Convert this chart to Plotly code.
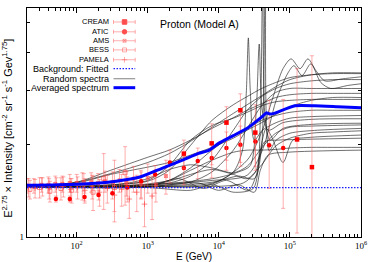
import plotly.graph_objects as go

# ---------------- measurements ----------------
cream_E = [3220, 7930, 12800, 20100, 32600, 126000, 204000]
cream_v = [1.87, 2.02, 2.36, 2.59, 2.19, 2.08, 1.69]
cream_up = [0.20, 0.32, 0.30, 0.34, 0.51, 1.46, 2.21]
cream_dn = [0.20, 0.30, 0.58, 0.84, 0.54, 1.05, 1.00]

atic_E = [51, 80, 129, 203, 318, 515, 808, 1270, 2050, 3220, 5050, 7930, 12800, 20100, 32600, 51100, 80400]
atic_v = [1.33, 1.33, 1.35, 1.37, 1.39, 1.45, 1.52, 1.60, 1.75, 1.68, 1.77, 1.81, 1.95, 2.00, 2.05, 1.99, 1.95]
atic_up = [0.03, 0.03, 0.04, 0.05, 0.06, 0.12, 0.11, 0.11, 0.17, 0.15, 0.18, 0.20, 0.25, 0.30, 0.35, 0.80, 0.86]
atic_dn = [0.03, 0.03, 0.04, 0.05, 0.06, 0.15, 0.18, 0.21, 0.25, 0.20, 0.22, 0.25, 0.30, 0.30, 0.35, 0.55, 0.71]

ams_E = [20, 25, 32, 40, 50, 63, 80, 100, 126, 160, 200, 250, 320, 400, 500, 630, 800, 1000, 1300, 1800]
ams_v = [1.47, 1.47, 1.48, 1.48, 1.49, 1.49, 1.50, 1.50, 1.51, 1.51, 1.50, 1.52, 1.51, 1.53, 1.50, 1.55, 1.49, 1.56, 1.48, 1.58]
ams_err = [0.08, 0.08, 0.08, 0.09, 0.09, 0.09, 0.10, 0.10, 0.10, 0.11, 0.11, 0.12, 0.12, 0.13, 0.14, 0.15, 0.16, 0.17, 0.18, 0.20]

bess_E = [22, 30, 42, 60, 85, 120, 170, 240, 340, 480]
bess_v = [1.43, 1.45, 1.41, 1.44, 1.42, 1.47, 1.40, 1.55, 1.45, 1.62]
bess_err = [0.10, 0.11, 0.11, 0.12, 0.13, 0.15, 0.18, 0.32, 0.33, 0.35]

pamela_E = [21, 26, 33, 41, 52, 65, 82, 103, 130, 165, 210, 270, 340, 430, 550, 700, 900, 1150]
pamela_v = [1.45, 1.44, 1.46, 1.44, 1.45, 1.46, 1.43, 1.45, 1.42, 1.46, 1.40, 1.44, 1.37, 1.43, 1.33, 1.40, 1.28, 1.36]
pamela_err = [0.10, 0.10, 0.10, 0.11, 0.11, 0.11, 0.12, 0.12, 0.13, 0.13, 0.14, 0.15, 0.16, 0.17, 0.18, 0.19, 0.20, 0.22]

# ---------------- model curves ----------------
bg_E = [20, 1000000]
bg_v = [1.448, 1.448]

avg_E = [20, 58, 209, 361, 757, 1585, 3020, 5200, 7200, 9930, 16000, 26000, 35000, 42200, 46400,
         52000, 60000, 68300, 118000, 224000, 468000, 1000000]
avg_v = [1.475, 1.48, 1.50, 1.52, 1.566, 1.675, 1.778, 1.874, 1.916, 2.02, 2.14, 2.276, 2.40, 2.49, 2.54,
         2.52, 2.53, 2.56, 2.68, 2.68, 2.66, 2.64]

E_grid = [20, 100, 300, 1000, 2000, 4000, 8000, 16000, 25000, 40000, 63000, 100000, 200000, 400000, 1000000]

rs1_v = [1.46, 1.51, 1.61, 1.75, 1.87, 2.05, 2.28, 2.53, 2.70, 2.89, 3.09, 3.26, 3.38, 3.43, 3.43]
rs2_v = [1.46, 1.46, 1.48, 1.52, 1.65, 1.99, 2.40, 2.70, 2.87, 3.05, 3.19, 3.31, 3.38, 3.41, 3.41]
rs4_v = [1.46, 1.46, 1.46, 1.48, 1.50, 1.58, 1.78, 2.23, 2.59, 2.87, 3.05, 3.16, 3.23, 3.26, 3.26]
rs6_v = [1.46, 1.51, 1.65, 1.82, 1.92, 2.07, 2.26, 2.45, 2.59, 2.72, 2.85, 2.91, 2.94, 2.94, 2.94]
rs7_v = [1.46, 1.50, 1.60, 1.69, 1.75, 1.85, 1.96, 2.10, 2.23, 2.36, 2.51, 2.66, 2.79, 2.85, 2.85]
rs8_v = [1.46, 1.46, 1.48, 1.53, 1.71, 2.07, 2.31, 2.44, 2.55, 2.68, 2.76, 2.79, 2.81, 2.81, 2.81]
rs15_v = [1.46, 1.46, 1.46, 1.49, 1.53, 1.65, 1.78, 1.89, 1.92, 1.92, 1.93, 1.95, 1.96, 1.96, 1.96]
rs17_v = [1.46, 1.46, 1.46, 1.48, 1.53, 1.68, 1.92, 2.15, 2.26, 2.40, 2.49, 2.55, 2.59, 2.59, 2.59]
rs18_v = [1.46, 1.46, 1.46, 1.46, 1.48, 1.51, 1.63, 1.92, 2.26, 2.68, 2.96, 3.05, 3.05, 3.05, 3.05]
rs19_v = [1.46, 1.46, 1.47, 1.55, 1.66, 1.72, 1.68, 1.62, 1.70, 1.95, 2.18, 2.28, 2.30, 2.31, 2.32]
rs20_v = [1.46, 1.46, 1.46, 1.47, 1.52, 1.60, 1.66, 1.60, 1.55, 1.72, 1.98, 2.10, 2.18, 2.20, 2.22]

rs3_E = [20, 1000, 8200, 25000, 41000, 56000, 80000, 104000, 139000, 179000, 232000, 310000, 550000, 1000000]
rs3_v = [1.46, 1.46, 1.49, 1.78, 2.23, 2.79, 3.54, 3.81, 3.54, 3.81, 3.49, 3.23, 3.28, 3.33]
rs5_E = [20, 1000, 8200, 25000, 41000, 64000, 94000, 114000, 148000, 197000, 272000, 376000, 650000, 1000000]
rs5_v = [1.46, 1.48, 1.53, 1.59, 1.92, 2.79, 3.43, 3.62, 3.36, 3.67, 3.19, 3.05, 3.12, 3.16]
rs9_E = [20, 1000, 8200, 16000, 21500, 24400, 26000, 27700, 31600, 41000, 64000, 100000, 204000, 1000000]
rs9_v = [1.46, 1.46, 1.50, 1.63, 1.92, 3.00, 4.46, 3.00, 2.07, 2.23, 2.36, 2.44, 2.47, 2.49]
rs10_E = [20, 1000, 8200, 18900, 27700, 33600, 37000, 40800, 49500, 80000, 204000, 1000000]
rs10_v = [1.46, 1.48, 1.55, 1.63, 1.71, 2.59, 4.26, 2.59, 2.23, 2.36, 2.42, 2.43]
rs11_E = [20, 1000, 8200, 22000, 33600, 38300, 41500, 45000, 52700, 80000, 204000, 1000000]
rs11_v = [1.46, 1.46, 1.46, 1.50, 1.65, 2.40, 7.5, 2.40, 2.07, 2.26, 2.33, 2.35]
rs12_E = [20, 1000, 8200, 18900, 31600, 39500, 45000, 51100, 64000, 100000, 247000, 1000000]
rs12_v = [1.46, 1.46, 1.51, 1.58, 1.55, 1.91, 6.8, 1.91, 2.07, 2.18, 2.23, 2.26]
rs13_E = [20, 1000, 4000, 8200, 16000, 30500, 38300, 46400, 56400, 80000, 110000, 179000, 1000000]
rs13_v = [1.46, 1.45, 1.42, 1.48, 1.40, 1.44, 1.92, 2.26, 2.10, 1.75, 2.07, 2.11, 2.15]
rs14_E = [20, 1000, 2700, 6100, 12800, 26000, 33600, 43600, 68000, 130000, 1000000]
rs14_v = [1.46, 1.46, 1.55, 1.44, 1.53, 1.42, 1.59, 2.04, 2.07, 2.08, 2.10]
rs16_E = [20, 1000, 5200, 9900, 18900, 31600, 38300, 49500, 94000, 1000000]
rs16_v = [1.46, 1.46, 1.50, 1.42, 1.48, 1.40, 1.65, 1.85, 1.89, 1.92]

random_spectra = [
    (E_grid, rs1_v), (E_grid, rs2_v), (rs3_E, rs3_v), (E_grid, rs4_v), (rs5_E, rs5_v),
    (E_grid, rs6_v), (E_grid, rs7_v), (E_grid, rs8_v), (rs9_E, rs9_v), (rs10_E, rs10_v),
    (rs11_E, rs11_v), (rs12_E, rs12_v), (rs13_E, rs13_v), (rs14_E, rs14_v), (E_grid, rs15_v),
    (rs16_E, rs16_v), (E_grid, rs17_v), (E_grid, rs18_v), (E_grid, rs19_v), (E_grid, rs20_v),
]

x_ticks = [100, 1000, 10000, 100000, 1000000]
x_ticktext = ["10<sup>2</sup>", "10<sup>3</sup>", "10<sup>4</sup>", "10<sup>5</sup>", "10<sup>6</sup>"]
x_minor = [m * d for d in [10, 100, 1000, 10000, 100000] for m in range(2, 10) if m * d >= 20]
y_ticks = [1]
y_ticktext = ["1"]
y_minor = [2, 3, 4, 5]

# ---------------- figure ----------------
ERR_COL = "rgba(255,90,90,0.55)"
RED = "#ff0000"
PINK = "rgba(255,60,60,0.6)"
BLUE = "#0000ff"
BG_COL = "#1a1aff"
BG_DASH = "1.5px,1.5px"

fig = go.Figure()

for E, v in random_spectra:
    fig.add_trace(go.Scatter(x=E, y=v, mode="lines",
                             line=dict(color="rgba(25,25,25,0.78)", width=0.8, shape="spline", smoothing=0.8),
                             hoverinfo="skip", showlegend=False))

def data_trace(E, v, up, dn, symbol, color, size, lw=1):
    return go.Scatter(x=E, y=v, mode="markers",
                      marker=dict(symbol=symbol, color=color, size=size, line=dict(color=color, width=lw)),
                      error_y=dict(type="data", array=up, arrayminus=dn, color=ERR_COL, thickness=0.9, width=2),
                      showlegend=False, hoverinfo="skip")

fig.add_trace(data_trace(pamela_E, pamela_v, pamela_err, pamela_err, "cross-thin-open", PINK, 4))
fig.add_trace(data_trace(bess_E, bess_v, bess_err, bess_err, "square-open", PINK, 4))
fig.add_trace(data_trace(ams_E, ams_v, ams_err, ams_err, "square-x-open", PINK, 3))
fig.add_trace(data_trace(atic_E, atic_v, atic_up, atic_dn, "circle", RED, 4.5, 0))
fig.add_trace(data_trace(cream_E, cream_v, cream_up, cream_dn, "square", RED, 4.5, 0))

fig.add_trace(go.Scatter(x=bg_E, y=bg_v, mode="lines",
                         line=dict(color=BG_COL, width=1.3, dash=BG_DASH), showlegend=False, hoverinfo="skip"))
fig.add_trace(go.Scatter(x=avg_E, y=avg_v, mode="lines",
                         line=dict(color=BLUE, width=3, shape="spline", smoothing=0.5),
                         showlegend=False, hoverinfo="skip"))

# ---------------- hand-drawn (gnuplot-style) key ----------------
key_labels = ["CREAM", "ATIC", "AMS", "BESS", "PAMELA", "Background: Fitted", "Random spectra", "Averaged spectrum"]
key_y = [0.939, 0.896, 0.857, 0.817, 0.774, 0.735, 0.691, 0.652]
key_txt_x = 0.250
key_x0, key_x1, key_xm = 0.259, 0.324, 0.292
annotations = []
shapes = []
for i, (lab, yy) in enumerate(zip(key_labels, key_y)):
    annotations.append(dict(text=lab, x=key_txt_x, y=yy, xref="paper", yref="paper",
                            xanchor="right", yanchor="middle", showarrow=False,
                            font=dict(size=7.5 if i < 5 else 9, color="black")))
    if i < 5:
        shapes.append(dict(type="line", xref="paper", yref="paper", x0=key_x0, x1=key_x1, y0=yy, y1=yy,
                           line=dict(color=ERR_COL, width=0.9)))
        for xe in (key_x0, key_x1):
            shapes.append(dict(type="line", xref="paper", yref="paper", x0=xe, x1=xe, y0=yy - 0.009, y1=yy + 0.009,
                               line=dict(color=ERR_COL, width=0.9)))
    elif i == 5:
        shapes.append(dict(type="line", xref="paper", yref="paper", x0=key_x0, x1=key_x1, y0=yy, y1=yy,
                           line=dict(color=BG_COL, width=1.3, dash=BG_DASH)))
    elif i == 6:
        shapes.append(dict(type="line", xref="paper", yref="paper", x0=key_x0, x1=key_x1, y0=yy, y1=yy,
                           line=dict(color="rgba(80,80,80,0.8)", width=0.9)))
    else:
        shapes.append(dict(type="line", xref="paper", yref="paper", x0=key_x0, x1=key_x1, y0=yy, y1=yy,
                           line=dict(color=BLUE, width=3)))

fig.add_trace(go.Scatter(x=[key_xm] * 5, y=key_y[:5], xaxis="x2", yaxis="y2", mode="markers",
                         marker=dict(symbol=["square", "circle", "square-x-open", "square-open", "cross-thin-open"],
                                     size=[4.5, 4.5, 3, 4, 4], color=[RED, RED, PINK, PINK, PINK],
                                     line=dict(color=[RED, RED, PINK, PINK, PINK], width=1)),
                         showlegend=False, hoverinfo="skip"))

annotations += [
    dict(text="Proton (Model A)", x=0.515, y=0.930, xref="paper", yref="paper", showarrow=False,
         xanchor="center", yanchor="middle", font=dict(size=10.5, color="black")),
    dict(text="E (GeV)", x=0.5, y=-0.087, xref="paper", yref="paper", showarrow=False,
         xanchor="center", yanchor="middle", font=dict(size=10, color="black")),
    dict(text="E<sup>2.75</sup> × Intensity [cm<sup>-2</sup> sr<sup>-1</sup> s<sup>-1</sup> Gev<sup>1.75</sup>]",
         x=-0.058, y=0.475, xref="paper", yref="paper", showarrow=False, textangle=-90,
         xanchor="center", yanchor="middle", font=dict(size=11, color="black")),
]

axis_common = dict(showline=True, linecolor="black", linewidth=1.3, mirror="allticks",
                   ticks="inside", tickcolor="black", showgrid=False, zeroline=False,
                   tickfont=dict(family="Liberation Serif", size=9, color="black"))

fig.update_layout(
    width=374, height=262,
    margin=dict(l=27, r=11, t=7, b=25),
    paper_bgcolor="white", plot_bgcolor="white",
    font=dict(family="Liberation Sans, Arial, sans-serif", color="black"),
    showlegend=False,
    xaxis=dict(type="log", range=[1.30103, 6], tickvals=x_ticks, ticktext=x_ticktext, ticklen=5,
               minor=dict(tickvals=x_minor, ticks="inside", ticklen=2.5, tickcolor="black"),
               **axis_common),
    yaxis=dict(type="log", range=[0, 0.7468], tickvals=y_ticks, ticktext=y_ticktext, ticklen=5,
               minor=dict(tickvals=y_minor, ticks="inside", ticklen=2.5, tickcolor="black"),
               **axis_common),
    xaxis2=dict(overlaying="x", range=[0, 1], visible=False),
    yaxis2=dict(overlaying="y", range=[0, 1], visible=False),
    annotations=annotations,
    shapes=shapes,
)

fig.write_html("out.html", config={"displayModeBar": False},
               post_script="document.body.style.margin='0';")
